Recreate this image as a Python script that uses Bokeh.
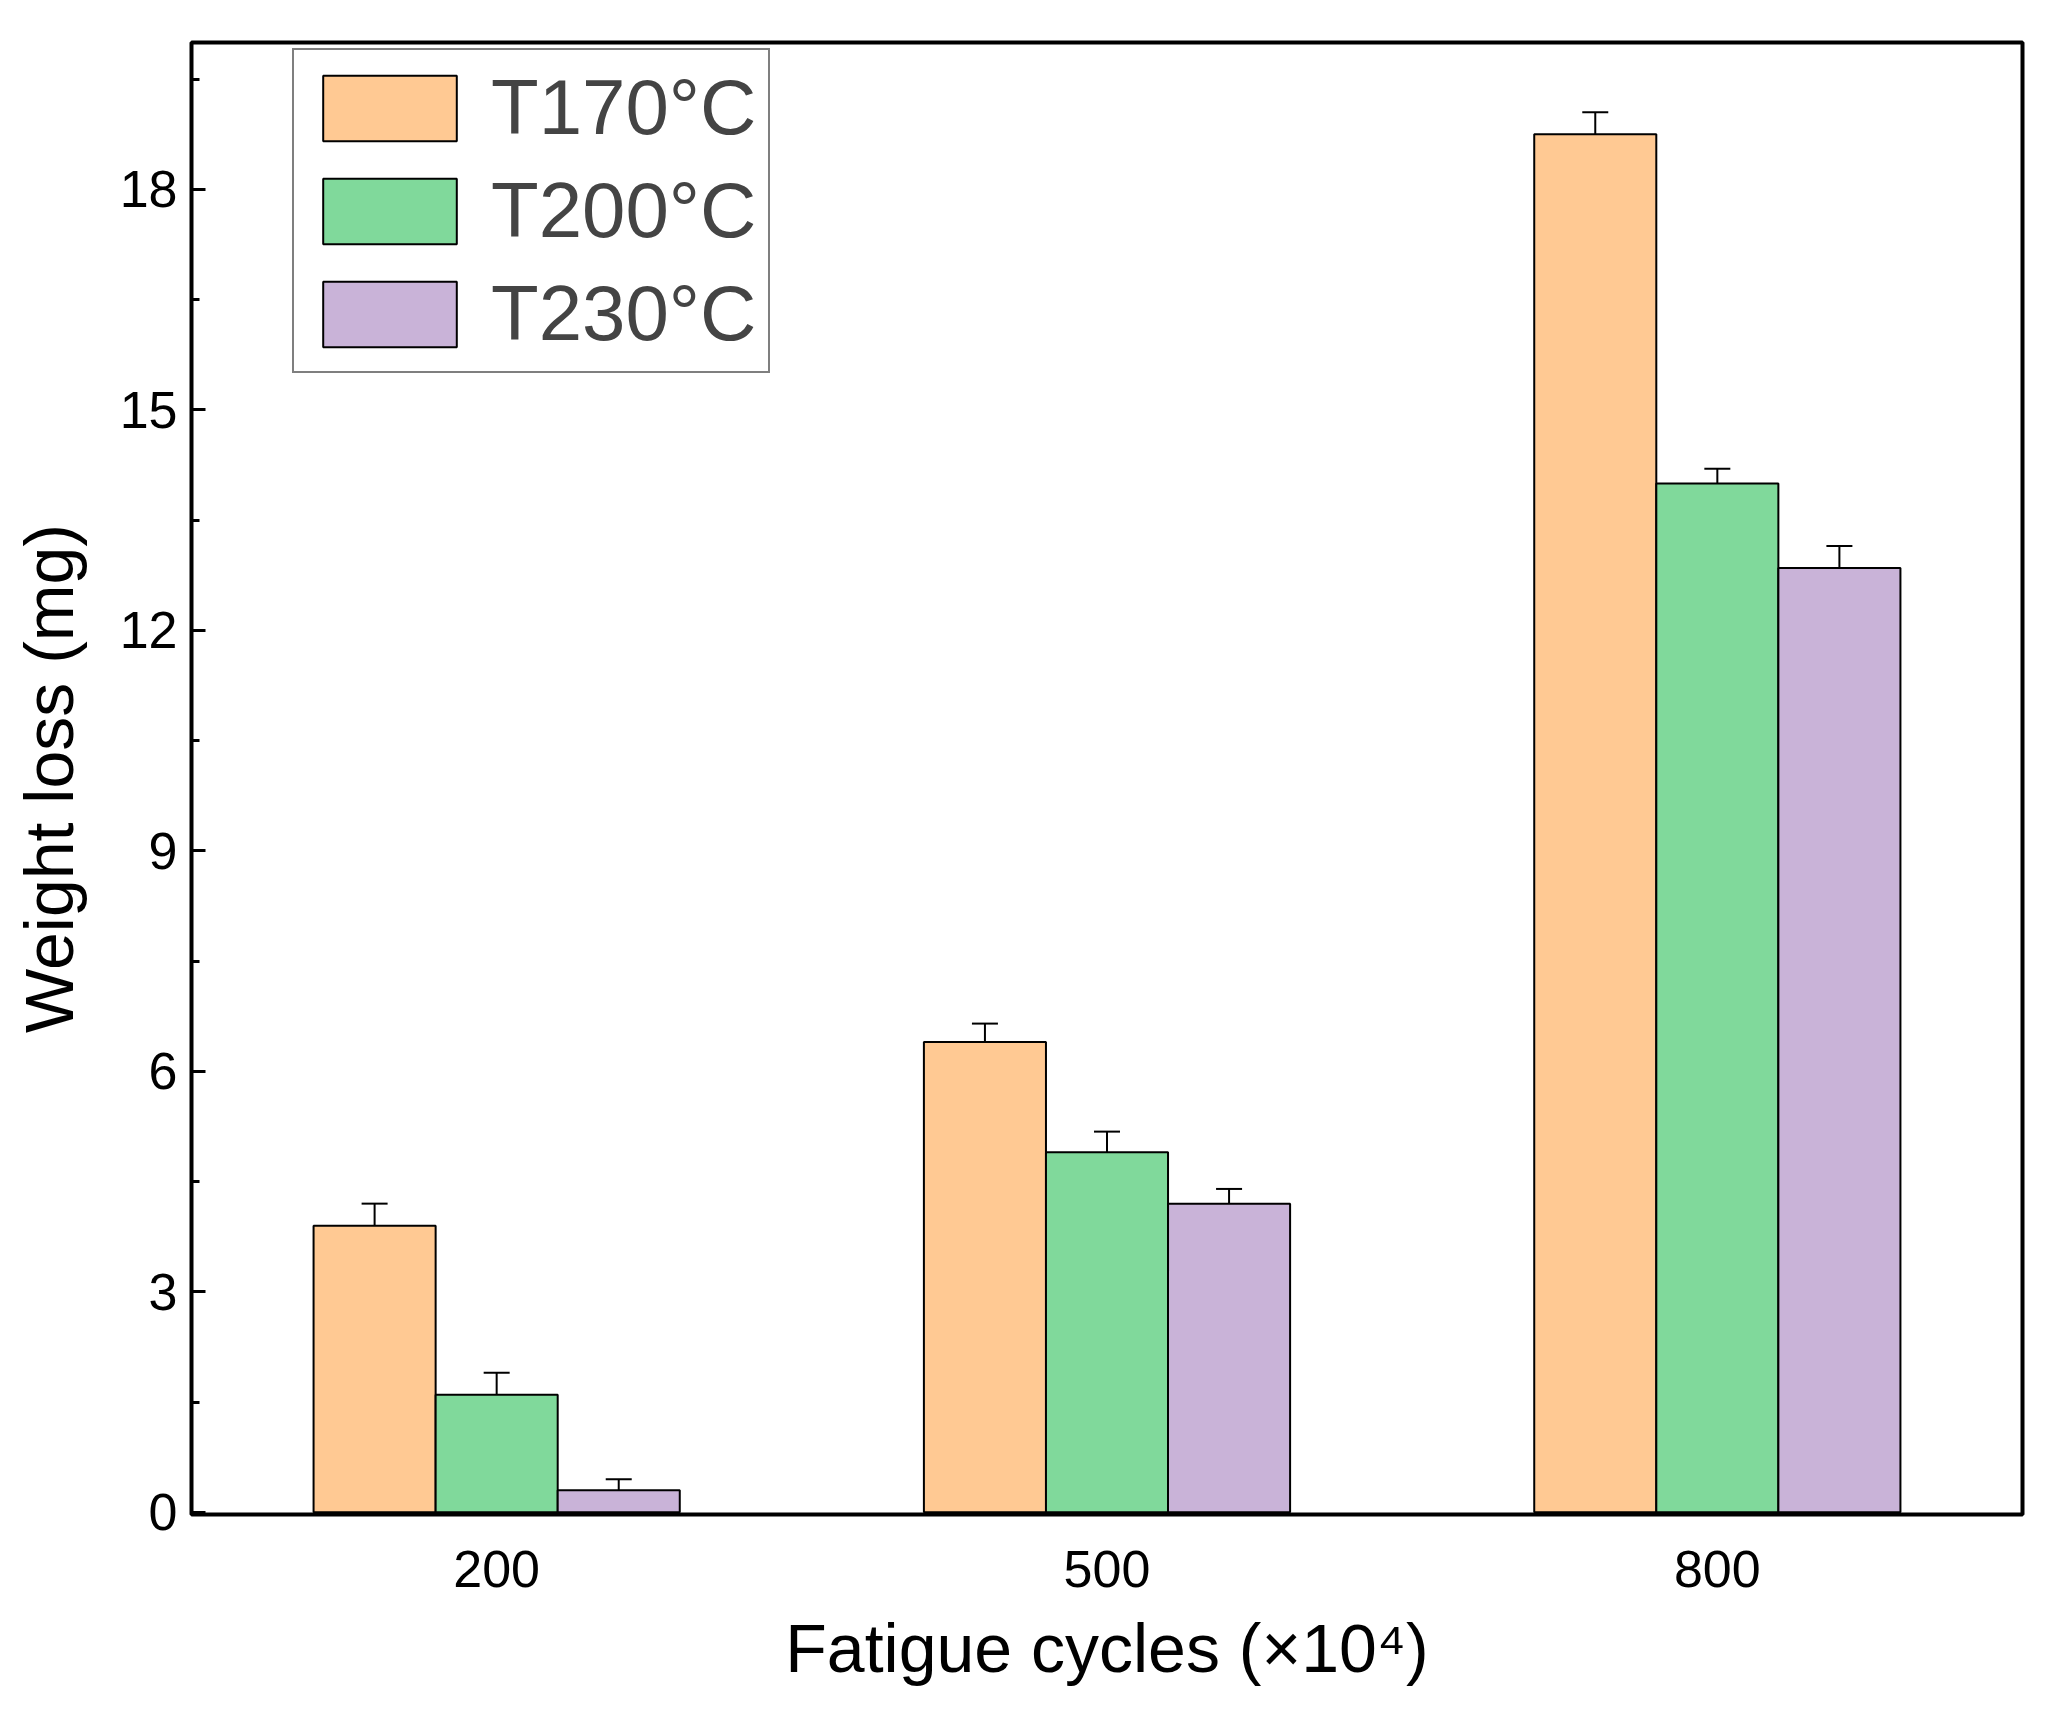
from bokeh.plotting import figure
from bokeh.models import ColumnDataSource, Whisker, Legend, LegendItem, FixedTicker
from bokeh.embed import file_html
from bokeh.resources import INLINE

groups = ["200", "500", "800"]
series = ["T170°C", "T200°C", "T230°C"]
colors = ["#FFC993", "#80D99B", "#C9B3D8"]
values = [[3.9, 6.4, 18.75], [1.6, 4.9, 14.0], [0.3, 4.2, 12.85]]
errors = [[0.3, 0.25, 0.3], [0.3, 0.28, 0.2], [0.15, 0.2, 0.3]]
offsets = [-0.2, 0.0, 0.2]

p = figure(output_backend="svg", toolbar_location=None, width=2039, height=1706,
           frame_width=1831, frame_height=1472, x_range=(-0.5, 2.5), y_range=(-0.03, 20),
           min_border_left=191, min_border_top=42, min_border_right=17, min_border_bottom=192)
p.outline_line_color = "black"
p.outline_line_width = 4
p.grid.visible = False
p.background_fill_color = "white"

items = []
for i, s in enumerate(series):
    xs = [j + offsets[i] for j in range(len(groups))]
    src = ColumnDataSource(dict(x=xs, top=values[i],
                                up=[v + e for v, e in zip(values[i], errors[i])],
                                lo=[v - e for v, e in zip(values[i], errors[i])]))
    r = p.vbar(x="x", top="top", width=0.2, bottom=0, source=src,
               fill_color=colors[i], line_color="black", line_width=2)
    w = Whisker(base="x", upper="up", lower="lo", source=src, line_width=2, line_color="black")
    w.upper_head.size = 26
    w.lower_head.size = 26
    w.upper_head.line_width = 2
    w.lower_head.line_width = 2
    p.add_layout(w)
    items.append(LegendItem(label=s, renderers=[r]))

legend = Legend(items=items, location=(101, 1141), glyph_width=167, glyph_height=82,
                label_text_font_size="78px", label_text_font="Liberation Sans",
                border_line_color="black", border_line_width=2, spacing=12,
                padding=12, label_standoff=18, margin=0)
p.add_layout(legend, "center")

p.xaxis.ticker = FixedTicker(ticks=[0, 1, 2])
p.xaxis.major_label_overrides = {0: "200", 1: "500", 2: "800"}
p.xaxis.major_tick_line_color = None
p.xaxis.minor_tick_line_color = None
p.xaxis.axis_label = "Fatigue cycles (×10⁴)"
p.yaxis.ticker = FixedTicker(ticks=[0, 3, 6, 9, 12, 15, 18], minor_ticks=[1.5, 4.5, 7.5, 10.5, 13.5, 16.5, 19.5])
p.yaxis.axis_label = "Weight loss (mg)"
for ax in (p.xaxis[0], p.yaxis[0]):
    ax.axis_line_color = None
    ax.major_label_text_font = "Liberation Sans"
    ax.major_label_text_font_size = "52px"
    ax.major_label_text_color = "black"
    ax.axis_label_text_font = "Liberation Sans"
    ax.axis_label_text_font_size = "68px"
    ax.axis_label_text_font_style = "normal"
    ax.axis_label_text_color = "black"
p.yaxis.major_tick_in = 14
p.yaxis.major_tick_out = 0
p.yaxis.minor_tick_in = 8
p.yaxis.minor_tick_out = 0
p.yaxis.major_tick_line_width = 3
p.yaxis.minor_tick_line_width = 3
p.yaxis.major_label_standoff = 14
p.xaxis.major_label_standoff = 30
p.xaxis.axis_label_standoff = 20
p.yaxis.axis_label_standoff = 30

open("out.html", "w").write(file_html(p, INLINE))
